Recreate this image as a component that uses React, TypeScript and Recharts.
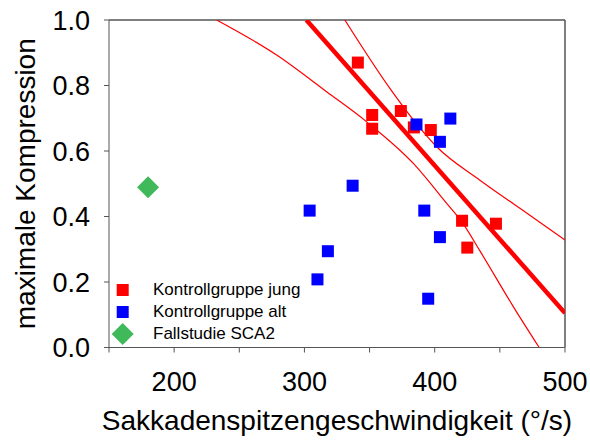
import React from 'react';
import { ComposedChart, Scatter, Line, XAxis, YAxis, ReferenceLine, Legend, Label } from 'recharts';

const FONT = '"Liberation Sans", Arial, Helvetica, sans-serif';

// Kontrollgruppe jung
const jungSpeed = [341, 352, 352, 374, 384, 397, 421, 447, 425];
const jungCompression = [0.87, 0.71, 0.668, 0.722, 0.672, 0.664, 0.387, 0.378, 0.305];

// Kontrollgruppe alt
const altSpeed = [386, 412, 404, 337, 304, 392, 404, 318, 310, 395];
const altCompression = [0.681, 0.699, 0.628, 0.494, 0.418, 0.418, 0.337, 0.294, 0.208, 0.149];

// Fallstudie SCA2
const scaSpeed = [180];
const scaCompression = [0.489];

// regression line of the young group and its confidence band
const fitSpeed = [301.5, 500];
const fitCompression = [1.0, 0.105];
const upperSpeed = [331, 365.6, 383.6, 401.5, 434.7, 465.4, 500];
const upperCompression = [1.0, 0.791, 0.695, 0.613, 0.511, 0.425, 0.328];
const lowerSpeed = [232.6, 278.7, 317, 347.8, 383.6, 409.2, 421.5, 434.7, 460.3, 480.2];
const lowerCompression = [1.0, 0.893, 0.781, 0.689, 0.562, 0.44, 0.38, 0.295, 0.125, 0.0];

const xTicks = [150, 200, 250, 300, 350, 400, 450, 500];
const yTicks = [0, 0.2, 0.4, 0.6, 0.8, 1.0];

const zip = (xs: number[], ys: number[]) => xs.map((x, i) => ({ x, y: ys[i] }));

const jung = zip(jungSpeed, jungCompression);
const alt = zip(altSpeed, altCompression);
const sca = zip(scaSpeed, scaCompression);
const fit = zip(fitSpeed, fitCompression);
const upper = zip(upperSpeed, upperCompression);
const lower = zip(lowerSpeed, lowerCompression);

const RED = '#ff0000';
const BLUE = '#0000ff';
const GREEN = '#3fb95a';
const AXIS = '#555555';

const legendItems = [
  { name: 'Kontrollgruppe jung', color: RED, shape: 'square' },
  { name: 'Kontrollgruppe alt', color: BLUE, shape: 'square' },
  { name: 'Fallstudie SCA2', color: GREEN, shape: 'diamond' },
];

const squareShape = (color: string) => (props: any) => {
  const { cx, cy } = props;
  if (cx == null || cy == null) return null;
  return <rect x={cx - 6} y={cy - 6} width={12} height={12} fill={color} />;
};

const diamondShape = (props: any) => {
  const { cx, cy } = props;
  if (cx == null || cy == null) return null;
  const r = 11;
  return <polygon points={`${cx},${cy - r} ${cx + r},${cy} ${cx},${cy + r} ${cx - r},${cy}`} fill={GREEN} />;
};

const renderLegend = () => (
  <div style={{ fontFamily: FONT, fontSize: 17, color: '#000' }}>
    {legendItems.map(item => (
      <div key={item.name} style={{ display: 'flex', alignItems: 'center', height: 22, lineHeight: '22px' }}>
        <svg width={26} height={22}>
          {item.shape === 'square' ? (
            <rect x={6.7} y={5} width={12} height={12} fill={item.color} />
          ) : (
            <polygon points="12.7,0 23.7,11 12.7,22 1.7,11" fill={item.color} />
          )}
        </svg>
        <span style={{ marginLeft: 17, whiteSpace: 'nowrap' }}>{item.name}</span>
      </div>
    ))}
  </div>
);

const App: React.FC = () => {
  return (
    <div style={{ position: 'absolute', left: 0, top: 0, width: 590, height: 443, background: '#fff' }}>
      <ComposedChart width={590} height={443} margin={{ top: 20, right: 25, bottom: 25.5, left: 29 }}>
        <XAxis
          dataKey="x"
          type="number"
          domain={[150, 500]}
          ticks={xTicks}
          allowDataOverflow
          height={70}
          stroke={AXIS}
          tickSize={5}
          tickMargin={19}
          interval={0}
          tick={(props: any) => {
            const value = props?.payload?.value;
            if (value % 100 !== 0) return <g />;
            return (
              <text x={props.x} y={props.y} dy="0.71em" textAnchor="middle" fill="#000" fontSize={27} fontFamily={FONT}>
                {value}
              </text>
            );
          }}
        >
          <Label
            content={(props: any) => {
              const vb = props.viewBox;
              return (
                <text
                  x={vb.x + vb.width / 2}
                  y={vb.y + 82.5}
                  textAnchor="middle"
                  fill="#000"
                  fontSize={28}
                  fontFamily={FONT}
                >
                  Sakkadenspitzengeschwindigkeit (°/s)
                </text>
              );
            }}
          />
        </XAxis>
        <YAxis
          dataKey="y"
          type="number"
          domain={[0, 1]}
          ticks={yTicks}
          allowDataOverflow
          width={80}
          stroke={AXIS}
          tickSize={5}
          tickMargin={14}
          interval={0}
          tickFormatter={(v: number) => v.toFixed(1)}
          tick={{ fill: '#000', fontSize: 27, fontFamily: FONT }}
        >
          <Label
            content={(props: any) => {
              const vb = props.viewBox;
              const x = vb.x + 6;
              const y = vb.y + vb.height / 2;
              return (
                <text
                  x={x}
                  y={y}
                  transform={`rotate(-90, ${x}, ${y})`}
                  textAnchor="middle"
                  fill="#000"
                  fontSize={28}
                  fontFamily={FONT}
                >
                  maximale Kompression
                </text>
              );
            }}
          />
        </YAxis>
        <ReferenceLine y={1} stroke={AXIS} strokeWidth={1.5} />
        <ReferenceLine x={500} stroke={AXIS} strokeWidth={1.5} />
        <Line data={lower} dataKey="y" type="monotone" stroke={RED} strokeWidth={1.2} dot={false} legendType="none" isAnimationActive={false} />
        <Line data={upper} dataKey="y" type="monotone" stroke={RED} strokeWidth={1.2} dot={false} legendType="none" isAnimationActive={false} />
        <Line data={fit} dataKey="y" type="linear" stroke={RED} strokeWidth={4.5} dot={false} legendType="none" isAnimationActive={false} />
        <Scatter name="Kontrollgruppe jung" data={jung} fill={RED} shape={squareShape(RED)} isAnimationActive={false} />
        <Scatter name="Kontrollgruppe alt" data={alt} fill={BLUE} shape={squareShape(BLUE)} isAnimationActive={false} />
        <Scatter name="Fallstudie SCA2" data={sca} fill={GREEN} shape={diamondShape} isAnimationActive={false} />
        <Legend
          layout="vertical"
          align="center"
          verticalAlign="middle"
          content={renderLegend}
          wrapperStyle={{ left: 110, top: 279, width: 'auto', height: 'auto' }}
        />
      </ComposedChart>
    </div>
  );
};

export default App;
